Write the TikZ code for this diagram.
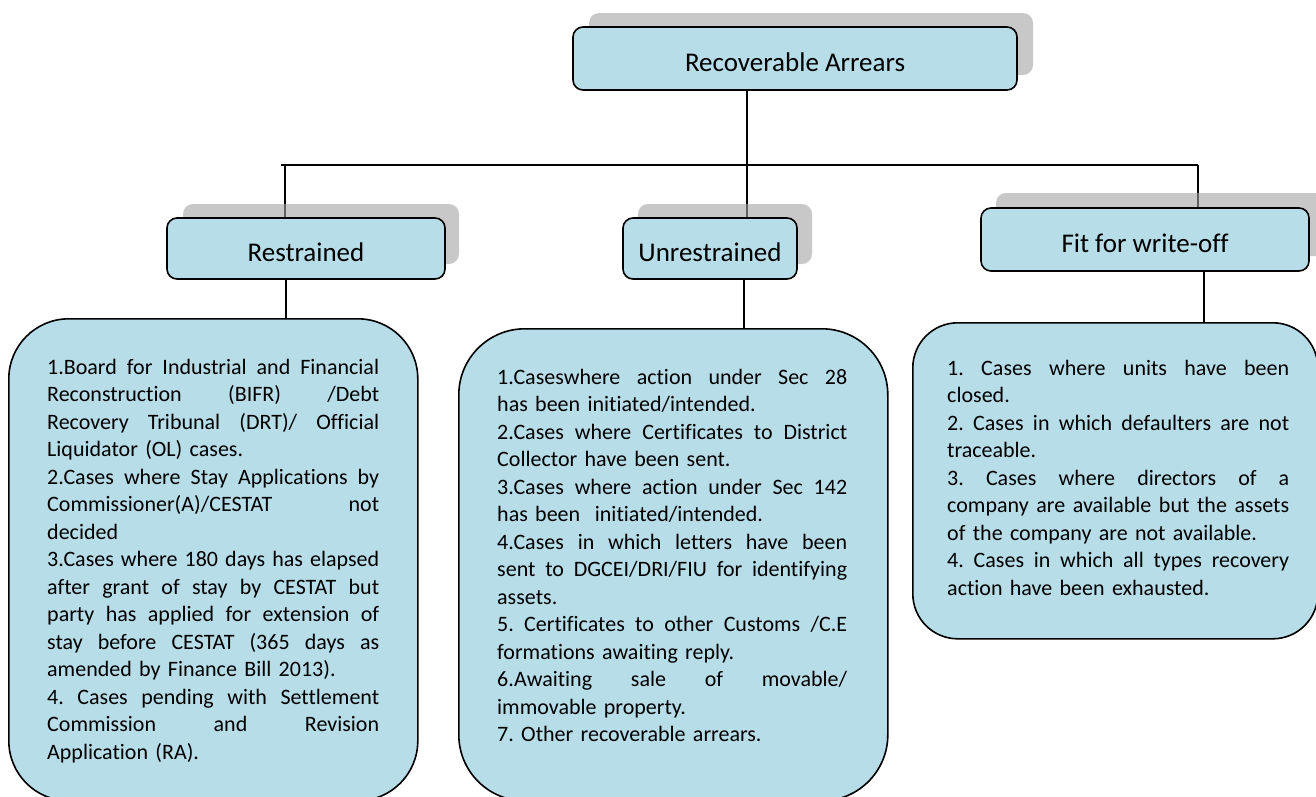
\documentclass[tikz,border=0pt]{standalone}
\usepackage{fontspec}
\setmainfont{Carlito}[Ligatures={NoCommon}]
\definecolor{boxfill}{HTML}{B7DDE8}
\definecolor{shadowgray}{RGB}{163,163,163}
\pgfdeclarelayer{bg}
\pgfsetlayers{bg,main}
\newlength\jw
\newcommand\jl[1]{\leavevmode\hbox to \jw{\spaceskip=0.226em plus 5em minus 0.05em\relax #1}}
\newcommand\bodyfont{\fontsize{22}{27.5}\selectfont\frenchspacing}
\tikzset{
  head/.style={draw=black, line width=1.6pt, fill=boxfill, rounded corners=10pt,
    inner sep=0pt, text height=25pt, text depth=0pt,
    font=\fontsize{27}{32}\selectfont},
  shadowbox/.style={fill=shadowgray, fill opacity=0.6, rounded corners=10pt},
  bigbox/.style={draw=black, line width=1.6pt, fill=boxfill, inner sep=0pt, anchor=north west},
  body/.style={anchor=north west, inner sep=0pt, align=left, font=\bodyfont},
  link/.style={draw=black, line width=1.6pt},
}
\begin{document}
\begin{tikzpicture}[x=1pt,y=-1pt]
\useasboundingbox (0,0) rectangle (1316,796);
\clip (0,0) rectangle (1316,796);

% shadows
\fill[shadowbox] (589,13) rectangle (1033,75);
\fill[shadowbox] (183,204) rectangle (459,264);
\fill[shadowbox] (638,204) rectangle (812,264);
\fill[shadowbox] (996,193) rectangle (1326,256);

% heading boxes
\node[head, minimum width=444, minimum height=63] (top) at (795,58.5) {Recoverable Arrears};
\node[head, minimum width=278, minimum height=61] (res) at (306,248.5) {Restrained};
\node[head, minimum width=174, minimum height=61] (unr) at (710,248.5) {Unrestrained};
\node[head, minimum width=328, minimum height=63] (fit) at (1145,239.5) {Fit for write-off};

% big boxes
\node[bigbox, rounded corners=60pt, minimum width=409, minimum height=482] (bl) at (8,318) {};
\node[bigbox, rounded corners=66pt, minimum width=429, minimum height=472] (bm) at (458,328) {};
\node[bigbox, rounded corners=45pt, minimum width=405, minimum height=316] (br) at (912,322) {};

% texts
\node[body, text width=332pt] (tl) at (47,359) {\global\jw=332pt%
\jl{1.Board for Industrial and Financial}\\
\jl{Reconstruction (BIFR) /Debt}\\
\jl{Recovery Tribunal (DRT)/ Official}\\
Liquidator (OL) cases.\\
\jl{2.Cases where Stay Applications by}\\
\jl{Commissioner(A)/CESTAT not}\\
decided\\
\jl{3.Cases where 180 days has elapsed}\\
\jl{after grant of stay by CESTAT but}\\
\jl{party has applied for extension of}\\
\jl{stay before CESTAT (365 days as}\\
amended by Finance Bill 2013).\\
\jl{4. Cases pending with Settlement}\\
\jl{Commission and Revision}\\
Application (RA).};

\node[body, text width=350pt] (tm) at (497,369) {\global\jw=350pt%
\jl{1.Caseswhere action under Sec 28}\\
has been initiated/intended.\\
\jl{2.Cases where Certificates to District}\\
Collector have been sent.\\
\jl{3.Cases where action under Sec 142}\\
has been\ \ initiated/intended.\\
\jl{4.Cases in which letters have been}\\
\jl{sent to DGCEI/DRI/FIU for identifying}\\
assets.\\
\jl{5. Certificates to other Customs /C.E}\\
formations awaiting reply.\\
\jl{6.Awaiting sale of movable/}\\
immovable property.\\
7. Other recoverable arrears.};

\node[body, text width=342pt] (tr) at (947,360) {\global\jw=342pt%
\jl{1. Cases where units have been}\\
closed.\\
\jl{2. Cases in which defaulters are not}\\
traceable.\\
\jl{3. Cases where directors of a}\\
\jl{company are available but the assets}\\
of the company are not available.\\
\jl{4. Cases in which all types recovery}\\
action have been exhausted.};

% connectors
\coordinate (jl) at (285,165);
\coordinate (jm) at (747,165);
\coordinate (jr) at (1198,165);
\begin{pgfonlayer}{bg}
\draw[link] (top.south -| jm) -- (jm);
\draw[link] ([xshift=-4pt]jl) -- (jr);
\draw[link] (jl) -- (jl |- res.north);
\draw[link] (jm) -- (jm |- unr.north);
\draw[link] (jr) -- (jr |- fit.north);
\draw[link] ([xshift=-20pt]res.south) coordinate (a1) -- (a1 |- bl.north);
\draw[link] ([xshift=34pt]unr.south) coordinate (a2) -- (a2 |- bm.north);
\draw[link] ([xshift=59pt]fit.south) coordinate (a3) -- (a3 |- br.north);
\end{pgfonlayer}
\end{tikzpicture}
\end{document}
